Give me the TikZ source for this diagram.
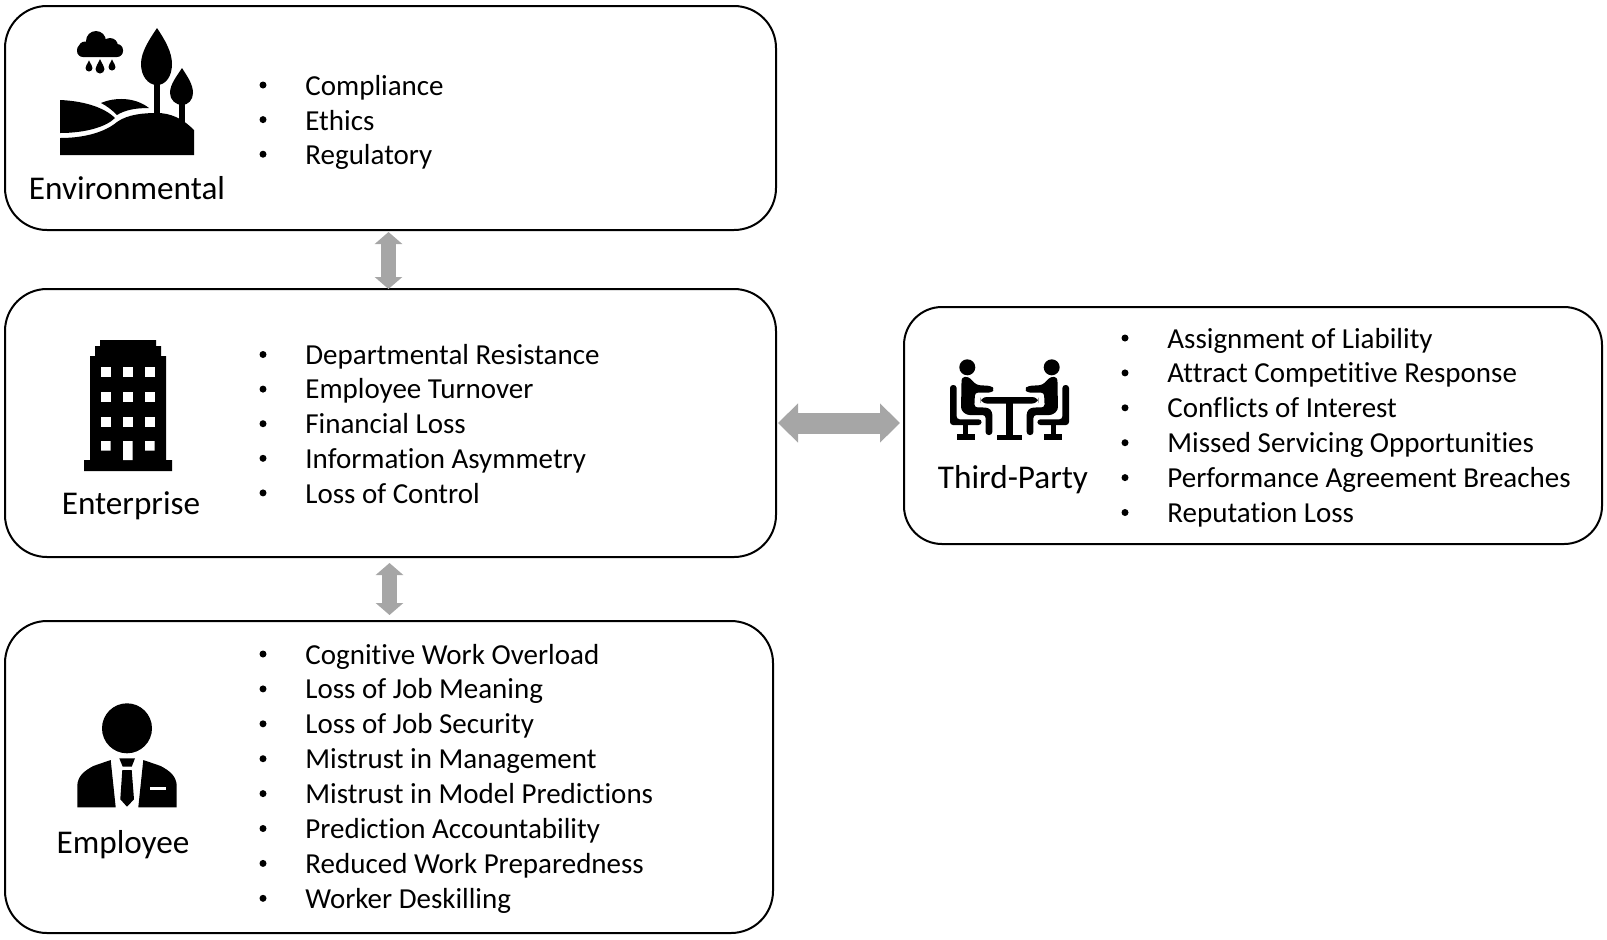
\documentclass[tikz,border=0pt]{standalone}
\usepackage{fontspec}
\setmainfont[Ligatures=NoCommon]{Carlito}
\usetikzlibrary{positioning, arrows.meta}
\definecolor{arrowgray}{HTML}{A6A6A6}
\tikzset{
  node distance=29.5pt,
  riskbox/.style={draw, line width=1pt, rounded corners=21pt, outer sep=0pt, inner sep=0pt},
  risktitle/.style={anchor=base, inner sep=0pt, font=\fontsize{16.6}{19}\selectfont},
  riskitem/.style={anchor=base west, inner sep=0pt, font=\fontsize{14.5}{17}\selectfont},
  riskdot/.style={circle, fill, inner sep=0pt, minimum size=3.5pt},
  vlink/.style={draw=arrowgray, line width=7.5pt, {Triangle[length=6pt,width=13.5pt,fill=arrowgray]}-{Triangle[length=6pt,width=13.5pt,fill=arrowgray]}},
  hlink/.style={draw=arrowgray, line width=10.5pt, {Triangle[length=10pt,width=19pt,fill=arrowgray]}-{Triangle[length=10pt,width=19pt,fill=arrowgray]}},
  seated/.pic={
    \fill (0,0) circle (8);
    \fill[rounded corners=1.5pt] (-5.7,10) -- (1,9.3) -- (9.3,17.7) -- (24.3,18.7) -- (27,22) -- (24.3,25.3) -- (7.7,25.3)
      -- (7,40) -- (21,40.3) -- (25,44.3) -- (25,67.7) -- (18.3,67.7) -- (18.3,47.7) -- (-0.7,47.7) -- (-6.3,42.7) -- cycle;
    \fill[rounded corners=1.5pt] (-17.3,17.7) -- (-10.7,17.7) -- (-10.7,52) -- (14.3,52) -- (14.3,57.7) -- (-17.3,57.7) -- cycle;
    \fill (-4,57) rectangle (1,68);
    \fill (-10.7,67) rectangle (7.7,72.7);
  }
}

\begin{document}
\begin{tikzpicture}[x=0.5pt, y=-0.5pt]
  \useasboundingbox (0,0) rectangle (1607,939);

  % the four boxes
  \node[riskbox, minimum width=385.5pt, minimum height=134pt] (enterprise) at (390.5,423) {};
  \node[riskbox, minimum width=385.5pt, minimum height=112pt, above=of enterprise] (environmental) {};
  \node[riskbox, minimum width=384pt, minimum height=156pt, below=32pt of enterprise.south west, anchor=north west] (employee) {};
  \node[riskbox, rounded corners=19pt, minimum width=349pt, minimum height=118.5pt, right=64pt of enterprise, yshift=-1.25pt] (thirdparty) {};

  % titles
  \node[risktitle] (environmental_title) at (127,199.5) {Environmental};
  \node[risktitle] (enterprise_title) at (131,514.5) {Enterprise};
  \node[risktitle] (employee_title) at (123,853.5) {Employee};
  \node[risktitle] (thirdparty_title) at (1013,488.5) {Third-Party};

  % lists
  \foreach \txt [count=\n from 0] in {Compliance, Ethics, Regulatory} {
    \node[riskdot] (envdot\n) at (263,{85+34.6*\n}) {};
    \node[riskitem] (envitem\n) at (305,{95.5+34.6*\n}) {\txt};
  }
  \foreach \txt [count=\n from 0] in {Departmental Resistance, Employee Turnover, Financial Loss, Information Asymmetry, Loss of Control} {
    \node[riskdot] (entdot\n) at (263,{354.5+34.6*\n}) {};
    \node[riskitem] (entitem\n) at (305,{364+34.8*\n}) {\txt};
  }
  \foreach \txt [count=\n from 0] in {Cognitive Work Overload, Loss of Job Meaning, Loss of Job Security, Mistrust in Management, Mistrust in Model Predictions, Prediction Accountability, Reduced Work Preparedness, Worker Deskilling} {
    \node[riskdot] (empdot\n) at (263,{654+34.9*\n}) {};
    \node[riskitem] (empitem\n) at (305,{664+34.9*\n}) {\txt};
  }
  \foreach \txt [count=\n from 0] in {Assignment of Liability, Attract Competitive Response, Conflicts of Interest, Missed Servicing Opportunities, Performance Agreement Breaches, Reputation Loss} {
    \node[riskdot] (thirddot\n) at (1125,{338+34.9*\n}) {};
    \node[riskitem] (thirditem\n) at (1167,{348+34.9*\n}) {\txt};
  }

  % links
  \draw[vlink, shorten <=1pt] ([xshift=-1pt]environmental.south) -- ([xshift=-1pt]enterprise.north);
  \draw[vlink, shorten <=3pt, shorten >=3pt] ([xshift=-0.5pt]enterprise.south) -- ([xshift=-0.5pt]enterprise.south |- employee.north);
  \draw[hlink, shorten <=1pt, shorten >=2pt] (enterprise.east) -- (enterprise.east -| thirdparty.west);

  % environmental icon
  \fill[rounded corners=3pt] (77,44) rectangle (123,57);
  \fill (96,41) circle (10) (110,46) circle (8) (85,48) circle (6.5);
  \foreach \dx/\dy/\r in {89/68/3.5, 100/69/4.5, 112/67/3.5} {
    \fill (\dx,\dy-2.2*\r) .. controls (\dx+0.5*\r,\dy-\r) and (\dx+\r,\dy-0.6*\r) .. (\dx+\r,\dy)
      arc[start angle=0, end angle=180, radius=\r] .. controls (\dx-\r,\dy-0.6*\r) and (\dx-0.5*\r,\dy-\r) .. cycle;
  }
  \fill (157,28) .. controls (165,40) and (172,52) .. (172,64) .. controls (172,76) and (166,85) .. (157,85)
    .. controls (148,85) and (141,76) .. (141,64) .. controls (141,52) and (149,40) .. cycle;
  \fill (154,80) rectangle (159.5,116);
  \fill (182,68) .. controls (187,76) and (193,84) .. (193,93) .. controls (193,100) and (188,105) .. (182,105)
    .. controls (176,105) and (170,100) .. (170,93) .. controls (170,84) and (177,76) .. cycle;
  \fill (179,100) rectangle (185,125);
  \fill (60,100) .. controls (85,101) and (105,108) .. (115,118) .. controls (106,127) and (85,133) .. (60,133) -- cycle;
  \fill (101,103) .. controls (115,97) and (135,97) .. (149,108) .. controls (135,108) and (125,110) .. (117,115) .. controls (112,110) and (107,106) .. cycle;
  \fill (60,138) .. controls (85,138) and (105,132) .. (117,122) .. controls (128,114) and (145,113) .. (157,113)
    .. controls (170,113) and (182,118) .. (194,130) -- (194,155) -- (60,155) -- cycle;

  % enterprise icon
  \fill (100,340) -- (156,340) -- (156,346) -- (161,346) -- (161,356) -- (166,356) -- (166,460) -- (172,460) -- (172,471)
    -- (84,471) -- (84,460) -- (90,460) -- (90,356) -- (95,356) -- (95,346) -- (100,346) -- cycle;
  \foreach \wy in {367,392,417} {
    \foreach \wx in {101,123,145} {
      \fill[white] (\wx,\wy) rectangle +(9.5,9.5);
    }
  }
  \fill[white] (101,441) rectangle +(9.5,9.5) (145,441) rectangle +(9.5,9.5) (123,441) rectangle (132.5,460);

  % third-party icon
  \pic at (967.3,367.3) {seated};
  \pic[xscale=-1] at (1051.7,367.3) {seated};
  \fill[rounded corners=3pt] (980.7,397) rectangle (1038.3,403.5);
  \fill (1005.7,403) rectangle (1013.3,437);
  \fill (997,435) rectangle (1022,440);

  % employee icon
  \fill (127,728.3) circle (25);
  \fill (77.3,807.3) -- (77.3,785) .. controls (78,776) and (84,771) .. (93.3,766) -- (110.7,760) -- (115.7,807.3) -- cycle;
  \fill (176.7,807.3) -- (176.7,785) .. controls (176,776) and (170,771) .. (160.7,766) -- (143.3,760) -- (138.3,807.3) -- cycle;
  \fill (119.3,758.3) -- (135,758.3) -- (131.7,766.7) -- (122.7,766.7) -- cycle;
  \fill (122.3,770) -- (131.7,770) -- (134,799.3) -- (127,806.7) -- (120.3,799.3) -- cycle;
  \fill[white] (150,786.7) rectangle (166,790);
\end{tikzpicture}
\end{document}
